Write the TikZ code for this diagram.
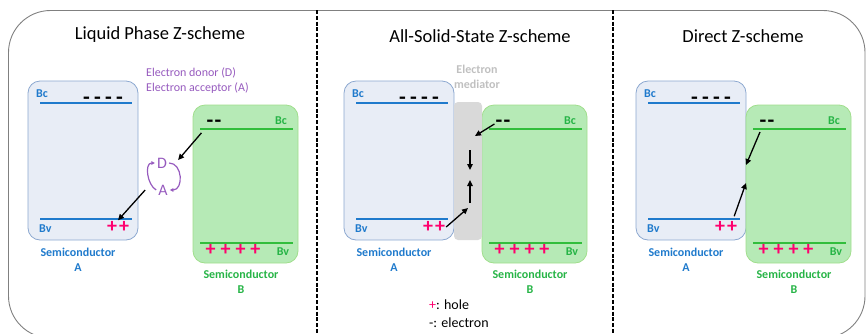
\documentclass[tikz,border=0pt]{standalone}
\usepackage{fontspec}
\setmainfont{Carlito}
\usetikzlibrary{arrows.meta}

\definecolor{semiblue}{RGB}{31,122,204}
\definecolor{semigreen}{RGB}{38,180,70}
\definecolor{bandgreen}{RGB}{50,190,60}
\definecolor{boxAfill}{RGB}{232,237,246}
\definecolor{boxAline}{RGB}{140,168,208}
\definecolor{boxBfill}{RGB}{182,234,182}
\definecolor{boxBline}{RGB}{160,222,140}
\definecolor{holepink}{RGB}{255,0,110}
\definecolor{redoxpurple}{RGB}{150,90,190}
\definecolor{medgray}{RGB}{217,217,217}
\definecolor{medtext}{RGB}{192,192,192}
\definecolor{framegray}{RGB}{128,128,128}

\newcommand{\gap}{\hspace{4.3pt}}
\newcommand{\pgap}{\hspace{5pt}}

\tikzset{
  title/.style={font=\fontsize{18.5}{22}\selectfont},
  frame/.style={draw=framegray, line width=0.9pt, rounded corners=42pt},
  divider/.style={line width=1.6pt, dash pattern=on 4pt off 1.8pt},
  boxA/.style={draw=boxAline, fill=boxAfill, line width=0.8pt, rounded corners=12pt},
  boxB/.style={draw=boxBline, fill=boxBfill, line width=0.8pt, rounded corners=12pt},
  bandA/.style={semiblue, line width=1.5pt},
  bandB/.style={bandgreen, line width=1.5pt},
  band/.style={font=\bfseries\fontsize{12}{12}\selectfont, inner sep=1pt},
  elec/.style={font=\bfseries\fontsize{22}{22}\selectfont, inner sep=1pt},
  hole/.style={text=holepink, font=\bfseries\fontsize{20}{20}\selectfont, inner sep=1pt},
  semi/.style={font=\bfseries\fontsize{12}{15}\selectfont, align=center, inner sep=1pt},
  redox/.style={text=redoxpurple, font=\fontsize{12}{15}\selectfont, inner sep=1pt},
  da/.style={text=redoxpurple, font=\fontsize{16}{16}\selectfont, inner sep=2pt},
  legend/.style={font=\fontsize{14}{16}\selectfont, inner sep=1pt},
  arr/.style={-{Triangle[length=6pt,width=5.5pt]}, line width=1.3pt},
  cyc/.style={-{Triangle[length=3.5pt,width=3.5pt]}, redoxpurple, line width=1.2pt}
}

\begin{document}
\begin{tikzpicture}[x=1pt,y=-1pt]
\useasboundingbox (0,0) rectangle (866,333);
\clip (0,0) rectangle (866,333);

% frame and dividers
\draw[frame] (8.5,10.5) rectangle (865,338);
\draw[divider] (317,10) -- (317,333);
\draw[divider] (613,10) -- (613,333);

% titles
\node[title] (tL) at (160,35) {Liquid Phase Z-scheme};
\node[title] (tM) at (480,36) {All-Solid-State Z-scheme};
\node[title] (tR) at (743,36) {Direct Z-scheme};

% semiconductor pairs
\foreach \ax/\bx/\p in {28/193/L,344/482/M,636/746/R}{
  % semiconductor A
  \draw[boxA] (\ax,81) rectangle ++(110,159);
  \draw[bandA] (\ax+12,103) -- ++(92,0);
  \draw[bandA] (\ax+12,219) -- ++(92,0);
  \node[band,text=semiblue,anchor=west] (bcA\p) at (\ax+7,94) {Bc};
  \node[band,text=semiblue,anchor=west] (bvA\p) at (\ax+10,229) {Bv};
  \node[elec] (eA\p) at (\ax+75,101) {-\gap-\gap-\gap-};
  \node[hole] (hA\p) at (\ax+90,227) {+\hspace{2pt}+};
  \node[semi,text=semiblue] (sA\p) at (\ax+50,260) {Semiconductor\\A};
  % semiconductor B
  \draw[boxB] (\bx,105) rectangle ++(105,158);
  \draw[bandB] (\bx+7,129) -- ++(93,0);
  \draw[bandB] (\bx+7,243) -- ++(93,0);
  \node[band,text=semigreen] (bcB\p) at (\bx+88,121) {Bc};
  \node[band,text=semigreen] (bvB\p) at (\bx+90,252) {Bv};
  \node[elec] (eB\p) at (\bx+21,124) {-\hspace{1.3pt}-};
  \node[hole] (hB\p) at (\bx+40,250) {+\pgap+\pgap+\pgap+};
  \node[semi,text=semigreen] (sB\p) at (\bx+48,282) {Semiconductor\\B};
}

% liquid phase: redox pair
\node[redox,anchor=west] (donor) at (145,73) {Electron donor (D)};
\node[redox,anchor=west] (acceptor) at (145,88) {Electron acceptor (A)};
\node[da] (D) at (162,163) {D};
\node[da] (A) at (163,190) {A};
\draw[cyc] (A.west) to[out=150,in=180] (D.west);
\draw[cyc] (D.east) to[out=0,in=0,looseness=1.3] (A.east);
\draw[arr] ([shift={(-4pt,-4pt)}]eBL.south west) -- ([xshift=9pt,yshift=3pt]D.east);
\draw[arr] ([xshift=-11pt]A.west) -- (hAL.north);

% all-solid-state: electron mediator
\draw[fill=medgray, draw=none, rounded corners=4pt] (454,102) rectangle (482,240);
\node[semi,text=medtext] (medlbl) at (477,77) {Electron\\mediator};
\coordinate (m1) at (475,136);
\coordinate (m2) at (470,150);
\coordinate (m3) at (470,170);
\coordinate (m4) at (470,203);
\coordinate (m5) at (470,180);
\coordinate (m6) at (468,208);
\draw[arr] (eBM.west) -- (m1);
\draw[arr] (m2) -- (m3);
\draw[arr] (m4) -- (m5);
\draw[arr] (hAM.east) -- (m6);

% direct: interface
\coordinate (r1) at (760,132);
\coordinate (r2) at (746,165);
\coordinate (r3) at (746,183);
\draw[arr] (r1) -- (r2);
\draw[arr] ([xshift=-4pt,yshift=4pt]hAR.north east) -- (r3);

% legend
\node[legend,anchor=west] (holekey) at (428,305) {\textcolor{holepink}{+}: hole};
\node[legend,anchor=west] (eleckey) at (428,323) {-: electron};

\end{tikzpicture}
\end{document}
